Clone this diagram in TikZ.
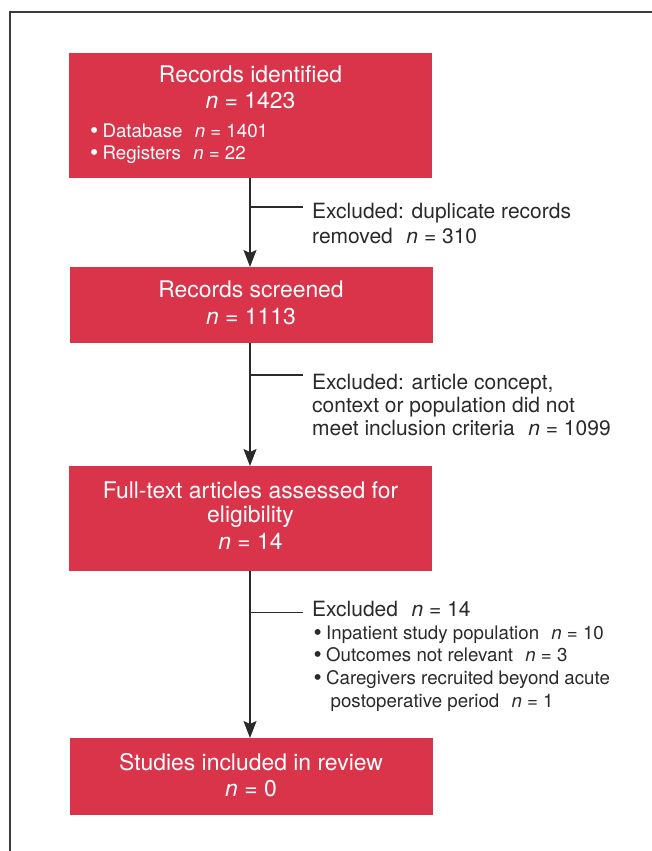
\documentclass[tikz,border=0pt]{standalone}
\usepackage{fontspec}
\setmainfont{TeX Gyre Heros}
\usetikzlibrary{arrows.meta}
\definecolor{boxred}{RGB}{217,52,74}
\definecolor{txtgray}{RGB}{42,42,42}
\definecolor{framegray}{RGB}{60,60,60}
\newcommand{\nn}{\textit{n}}
\newcommand{\gapn}{\hspace{0.65em}}
\newcommand{\bul}{\makebox[12.4pt][l]{\raisebox{-1.4pt}{\scalebox{1.25}{\textbullet}}}}
\begin{document}
\begin{tikzpicture}[x=1pt,y=-1pt,
  redbox/.style={fill=boxred, draw=none, inner sep=0pt, anchor=north west},
  boxtext/.style={font=\fontsize{22.9}{26}\selectfont, text=white, inner sep=0pt, anchor=base},
  boxbul/.style={font=\fontsize{18.7}{22}\selectfont, text=white, inner sep=0pt, anchor=base west},
  extext/.style={font=\fontsize{21}{24}\selectfont, text=txtgray, inner sep=0pt, anchor=base west},
  exbul/.style={font=\fontsize{18.7}{22}\selectfont, text=txtgray, inner sep=0pt, anchor=base west},
  flowarrow/.style={draw=txtgray, line width=1.4pt, -{Stealth[length=17pt,width=13pt,inset=3pt]}},
  branchline/.style={draw=txtgray, line width=1.2pt}]
\useasboundingbox (0,0) rectangle (652,851);
\fill[white] (0,0) rectangle (652,851);
% frame (only left and top edges visible)
\coordinate (fbl) at (10,851);
\coordinate (ftl) at (10,12);
\coordinate (ftr) at (652,12);
\draw[framegray, line width=1.6pt] (fbl) -- (ftl) -- (ftr);

% boxes
\node[redbox, minimum width=363pt, minimum height=125pt] (b1) at (69,53) {};
\node[redbox, minimum width=363pt, minimum height=76pt] (b2) at (70,267) {};
\node[redbox, minimum width=363pt, minimum height=105pt] (b3) at (69,466) {};
\node[redbox, minimum width=363pt, minimum height=77pt] (b4) at (70,738) {};

% box 1 text
\node[boxtext] (b1a) at (250.5,82) {Records identified};
\node[boxtext] (b1b) at (250.5,108) {\nn\ = 1423};
\node[boxbul] (b1c) at (90,137) {\bul Database\gapn\nn\ = 1401};
\node[boxbul] (b1d) at (90,159) {\bul Registers\gapn\nn\ = 22};

% box 2 text
\node[boxtext] (b2a) at (251,297) {Records screened};
\node[boxtext] (b2b) at (251,324) {\nn\ = 1113};

% box 3 text
\node[boxtext] (b3a) at (250.5,498) {Full-text articles assessed for};
\node[boxtext] (b3b) at (250.5,522) {eligibility};
\node[boxtext] (b3c) at (250.5,549) {\nn\ = 14};

% box 4 text
\node[boxtext] (b4a) at (251,770) {Studies included in review};
\node[boxtext] (b4b) at (251,796) {\nn\ = 0};

% arrows
\draw[flowarrow] (b1.south -| 250,0) coordinate (a1s) -- (b2.north -| 250,0) coordinate (a1e);
\draw[flowarrow] (b2.south -| 250,0) coordinate (a2s) -- (b3.north -| 250,0) coordinate (a2e);
\draw[flowarrow] (b3.south -| 250,0) coordinate (a3s) -- (b4.north -| 250,0) coordinate (a3e);

% exclusion branches
\coordinate (j1) at (250,207);
\coordinate (k1) at (303,207);
\draw[branchline] (j1) -- (k1);
\coordinate (j2) at (250,375);
\coordinate (k2) at (303,375);
\draw[branchline] (j2) -- (k2);
\coordinate (j3) at (250,612.5);
\coordinate (k3) at (303,612.5);
\draw[branchline] (j3) -- (k3);

% exclusion texts
\node[extext] (e1a) at (312,218) {Excluded: duplicate records};
\node[extext] (e1b) at (312,243) {removed\gapn\nn\ = 310};

\node[extext] (e2a) at (312,389) {Excluded: article concept,};
\node[extext] (e2b) at (312,412) {context or population did not};
\node[extext] (e2c) at (312,435) {meet inclusion criteria\gapn\nn\ = 1099};

\node[extext] (e3a) at (312,616) {Excluded\gapn\nn\ = 14};
\node[exbul] (e3b) at (313.5,639) {\bul Inpatient study population\gapn\nn\ = 10};
\node[exbul] (e3c) at (313.5,661) {\bul Outcomes not relevant\gapn\nn\ = 3};
\node[exbul] (e3d) at (313.5,684) {\bul Caregivers recruited beyond acute};
\node[exbul] (e3e) at (330.5,707) {postoperative period\gapn\nn\ = 1};
\end{tikzpicture}
\end{document}
